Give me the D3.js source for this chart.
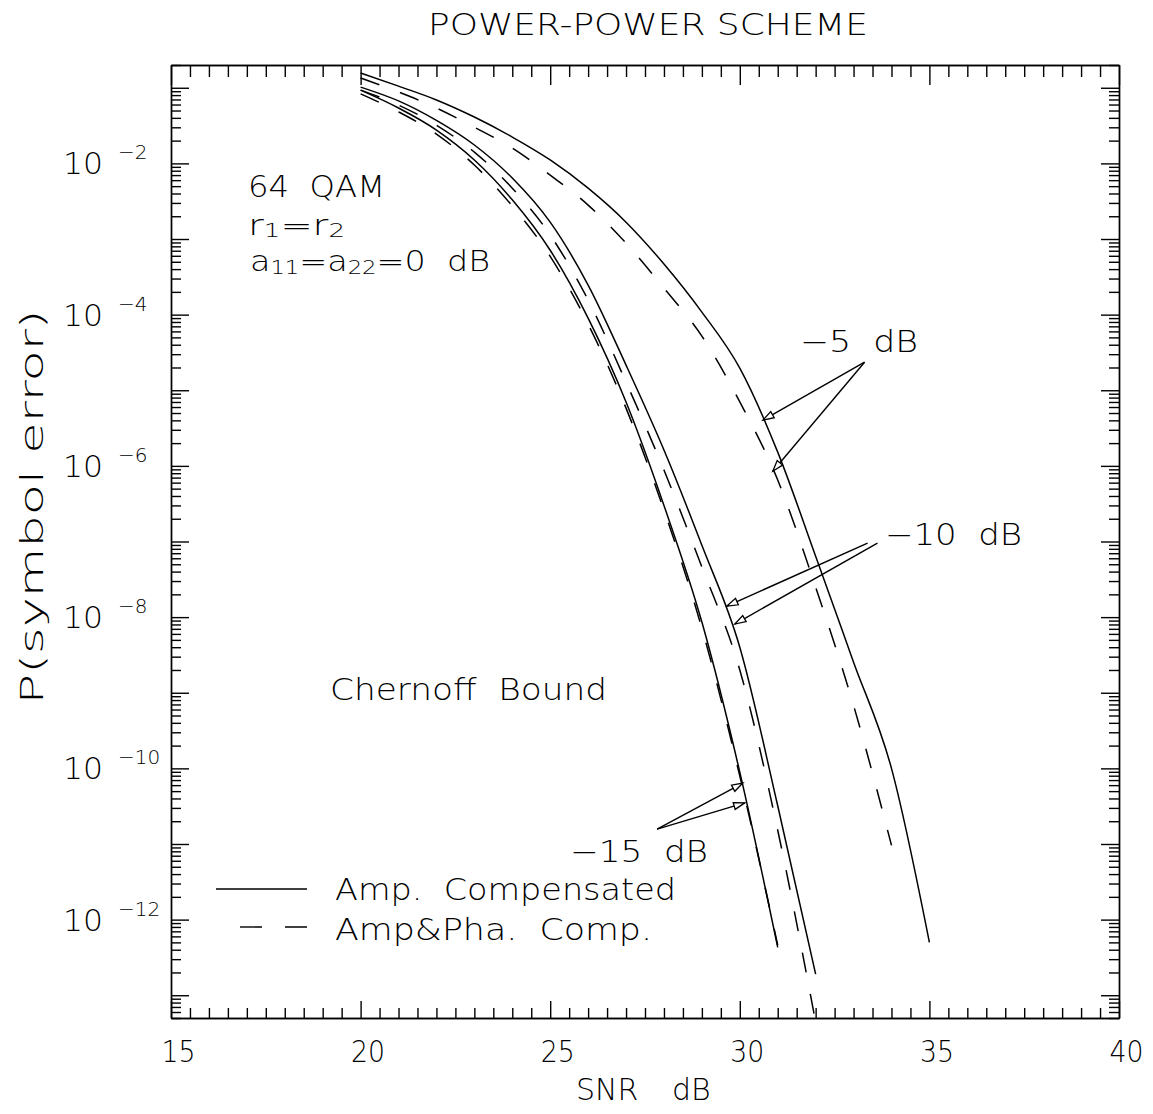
<!DOCTYPE html>
<html><head><meta charset="utf-8">
<script src="https://cdn.jsdelivr.net/npm/d3@7"></script>
<style>
body{margin:0;background:#fff;}
svg text{font-family:"DejaVu Sans","Liberation Sans",sans-serif;font-weight:200;fill:#000;}
</style></head><body>
<svg id="chart" width="1153" height="1114"></svg>
<script>
// ---------- data ----------
const snrAmp5 = [20,21,22,23,24,25,26,27,28,29,30,31,32,33,34,35];
const amp5    = [1.57e-1,1.05e-1,6.9e-2,4.1e-2,2.23e-2,1.11e-2,4.7e-3,1.67e-3,4.67e-4,1.08e-4,1.96e-5,1.52e-6,6.4e-8,2.54e-9,1.0e-10,5.0e-13];
const snrPha5 = [20,21,22,23,24,25,26,27,28,29,30,31,32,33,34];
const pha5    = [1.35e-1,8.8e-2,5.4e-2,3.0e-2,1.6e-2,7.0e-3,2.81e-3,8.8e-4,2.24e-4,5.2e-5,7.0e-6,6.5e-7,2.49e-8,6.8e-10,9.6e-12];
const snr10   = [20,21,22,23,24,25,26,27,28,29,30,31,32];
const amp10   = [1.02e-1,6.7e-2,3.7e-2,1.75e-2,6.4e-3,1.67e-3,2.46e-4,2.15e-5,1.62e-6,8.9e-8,4.0e-9,3.2e-11,1.9e-13];
const pha10   = [9.3e-2,5.9e-2,3.2e-2,1.41e-2,4.7e-3,1.13e-3,1.56e-4,1.28e-5,8.8e-7,4.6e-8,2.0e-9,1.52e-11,4.4e-14];
const snr15   = [20,21,22,23,24,25,26,27,28,29,30,31];
const amp15   = [9.3e-2,5.4e-2,2.76e-2,1.11e-2,3.3e-3,7.1e-4,9.0e-5,7.0e-6,3.0e-7,8.6e-9,8.9e-11,4.3e-13];
const pha15   = [8.3e-2,4.8e-2,2.44e-2,9.5e-3,2.73e-3,5.9e-4,7.5e-5,5.8e-6,2.6e-7,7.1e-9,7.9e-11,4.6e-13];

const xTickLabels = ["15","20","25","30","35","40"];
const yLabelExps  = [-2,-4,-6,-8,-10,-12];

// arrows: [fromSNR, fromP, toSNR, toP]
const arrows = [
  [33.29,2.35e-5,30.61,4.03e-6],
  [33.29,2.35e-5,30.87,8.5e-7],
  [33.37,9.5e-8,29.66,1.40e-8],
  [33.63,9.5e-8,29.87,8.1e-9],
  [27.82,1.57e-11,30.08,6.4e-11],
  [27.82,1.57e-11,30.13,3.5e-11]
];

// ---------- layout ----------
const W=1153,H=1114;
const M={left:171,right:1119,top:65,bottom:1018};
const x=d3.scaleLinear().domain([15,40]).range([M.left,M.right]);
const y=d3.scaleLog().domain([5e-14,0.2]).range([M.bottom,M.top]);

const svg=d3.select('#chart');
svg.append('rect').attr('width',W).attr('height',H).attr('fill','#fff');
svg.append('defs').append('clipPath').attr('id','clip').append('rect')
  .attr('x',M.left).attr('y',M.top).attr('width',M.right-M.left).attr('height',M.bottom-M.top);

// tick values
const xMajor = xTickLabels.map(Number);
const xMinor = d3.range(15,40.001,0.5).filter(v=>v%5!==0);
const yMajor = d3.range(-13,0).map(e=>Math.pow(10,e));
const yMinor = [];
for(let e=-14;e<=0;e++) for(let m=2;m<=9;m++){const v=m*Math.pow(10,e); if(v>=5e-14&&v<=0.2) yMinor.push(v);}

function styleAxis(g){g.selectAll('path,line').attr('stroke','#000').attr('stroke-width',1.4);g.selectAll('text').remove();}

// bottom
svg.append('g').attr('transform',`translate(0,${M.bottom})`)
  .call(d3.axisBottom(x).tickValues(xMinor).tickSize(-10).tickSizeOuter(0).tickFormat('')).call(styleAxis);
const bx=svg.append('g').attr('transform',`translate(0,${M.bottom})`)
  .call(d3.axisBottom(x).tickValues(xMajor).tickSize(-17).tickSizeOuter(0).tickPadding(22).tickFormat((d,i)=>xTickLabels[i]));
bx.selectAll('path,line').attr('stroke','#000').attr('stroke-width',1.4);
bx.selectAll('text').attr('font-size',31).attr('fill','#000').attr('font-family','"DejaVu Sans",sans-serif').attr('font-weight',200)
  .attr('textLength',34).attr('lengthAdjust','spacingAndGlyphs').attr('dx',7);
// top
svg.append('g').attr('transform',`translate(0,${M.top})`)
  .call(d3.axisTop(x).tickValues(xMinor).tickSize(-12).tickSizeOuter(0).tickFormat('')).call(styleAxis);
svg.append('g').attr('transform',`translate(0,${M.top})`)
  .call(d3.axisTop(x).tickValues(xMajor).tickSize(-20).tickSizeOuter(0).tickFormat('')).call(styleAxis);
// left
svg.append('g').attr('transform',`translate(${M.left},0)`)
  .call(d3.axisLeft(y).tickValues(yMinor).tickSize(-10).tickSizeOuter(0).tickFormat('')).call(styleAxis);
svg.append('g').attr('transform',`translate(${M.left},0)`)
  .call(d3.axisLeft(y).tickValues(yMajor).tickSize(-18).tickSizeOuter(0).tickFormat('')).call(styleAxis);
// right
svg.append('g').attr('transform',`translate(${M.right},0)`)
  .call(d3.axisRight(y).tickValues(yMinor).tickSize(-10).tickSizeOuter(0).tickFormat('')).call(styleAxis);
svg.append('g').attr('transform',`translate(${M.right},0)`)
  .call(d3.axisRight(y).tickValues(yMajor).tickSize(-18).tickSizeOuter(0).tickFormat('')).call(styleAxis);

// y tick labels 10^-n
yLabelExps.forEach(e=>{
  const yy=y(Math.pow(10,e));
  svg.append('text').attr('x',63).attr('y',yy+11).attr('font-size',31).attr('textLength',40).attr('lengthAdjust','spacingAndGlyphs').text('10');
  svg.append('text').attr('x',118).attr('y',yy-4).attr('font-size',20).text('\u2212'+(-e));
});

// curves
const line=d3.line().x(d=>x(d[0])).y(d=>y(d[1])).curve(d3.curveMonotoneX);
const curves=[
  {s:snrAmp5,v:amp5,dash:null},
  {s:snrPha5,v:pha5,dash:'20,22'},
  {s:snr10,v:amp10,dash:null},
  {s:snr10,v:pha10,dash:'20,22'},
  {s:snr15,v:amp15,dash:null},
  {s:snr15,v:pha15,dash:'20,22'}
];
const cg=svg.append('g').attr('clip-path','url(#clip)');
curves.forEach(c=>{
  cg.append('path').datum(c.s.map((s,i)=>[s,c.v[i]])).attr('d',line)
    .attr('fill','none').attr('stroke','#000').attr('stroke-width',1.5)
    .attr('stroke-dasharray',c.dash);
});

// arrows
arrows.forEach(a=>{
  const x0=x(a[0]),y0=y(a[1]),x1=x(a[2]),y1=y(a[3]);
  svg.append('line').attr('x1',x0).attr('y1',y0).attr('x2',x1).attr('y2',y1).attr('stroke','#000').attr('stroke-width',1.4);
  const ang=Math.atan2(y1-y0,x1-x0),L=11,w=3.5;
  const bxp=x1-L*Math.cos(ang),byp=y1-L*Math.sin(ang);
  const p=[[x1,y1],[bxp-w*Math.sin(ang),byp+w*Math.cos(ang)],[bxp+w*Math.sin(ang),byp-w*Math.cos(ang)]];
  svg.append('path').attr('d','M'+p.map(q=>q.join(',')).join('L')+'Z').attr('fill','#fff').attr('stroke','#000').attr('stroke-width',1.3);
});

// texts
function txt(s,xx,yy,size,len){const t=svg.append('text').attr('x',xx).attr('y',yy).attr('font-size',size).style('white-space','pre').text(s); if(len) t.attr('textLength',len).attr('lengthAdjust','spacingAndGlyphs'); return t;}
txt('POWER-POWER SCHEME',428,35,30,440);
txt('SNR',576,1100,30);
txt('dB',672,1100,30);
svg.append('text').attr('transform','translate(43,507) rotate(-90)').attr('text-anchor','middle')
  .attr('font-size',32).attr('textLength',395).attr('lengthAdjust','spacingAndGlyphs').text('P(symbol error)');
txt('64  QAM',248,197,30,137);
const r=svg.append('text').attr('x',248).attr('y',235).attr('font-size',28).attr('textLength',97).attr('lengthAdjust','spacingAndGlyphs');
r.append('tspan').text('r');
r.append('tspan').attr('font-size',19).attr('dy',2).text('1');
r.append('tspan').attr('dy',-2).text('=r');
r.append('tspan').attr('font-size',19).attr('dy',2).text('2');
const a=svg.append('text').attr('x',250).attr('y',271).attr('font-size',28).attr('textLength',240).attr('lengthAdjust','spacingAndGlyphs');
a.append('tspan').text('a');
a.append('tspan').attr('font-size',19).attr('dy',3).text('11');
a.append('tspan').attr('dy',-3).text('=a');
a.append('tspan').attr('font-size',19).attr('dy',3).text('22');
a.append('tspan').attr('dy',-3).style('white-space','pre').text('=0  dB');
txt('Chernoff  Bound',330,700,30,277);
txt('\u22125  dB',800,352,30,118);
txt('\u221210  dB',885,545,30,137);
txt('\u221215  dB',570,862,30,138);
// legend
svg.append('line').attr('x1',216).attr('x2',307).attr('y1',889).attr('y2',889).attr('stroke','#000').attr('stroke-width',1.4);
svg.append('line').attr('x1',240).attr('x2',307).attr('y1',927).attr('y2',927).attr('stroke','#000').attr('stroke-width',1.4).attr('stroke-dasharray','22,23');
txt('Amp.  Compensated',335,900,30,341);
txt('Amp&Pha.  Comp.',335,940,30,317);
</script></body></html>
